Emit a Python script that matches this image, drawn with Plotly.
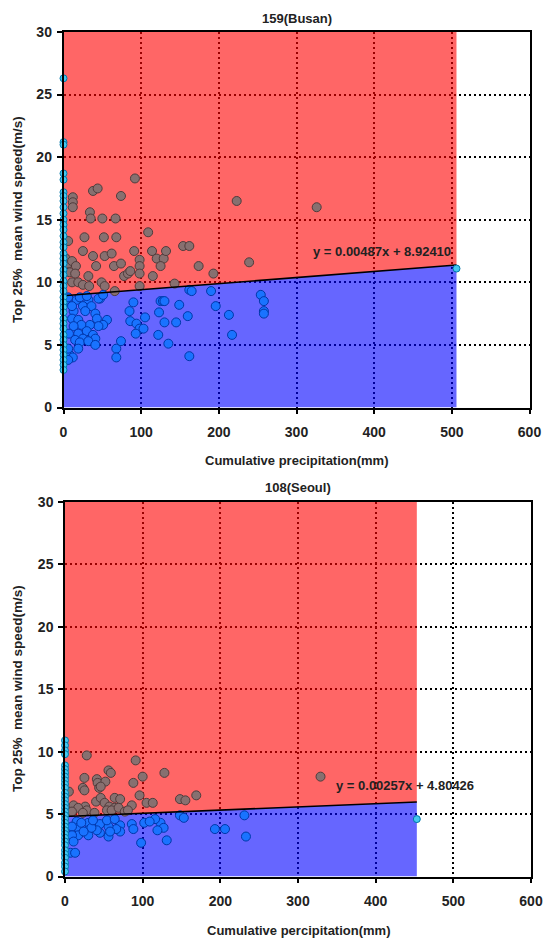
import plotly.graph_objects as go

# ---------------- data ----------------
# Busan (159)
busan_slope = 0.00487
busan_intercept = 8.92410
busan_xmax = 506
busan_zero_y = [26.3, 21.2, 21.0, 18.7, 18.2, 17.2, 16.9, 16.5, 16.0, 15.5, 15.0, 14.6, 14.2,
                13.7, 13.2, 12.8, 12.3, 11.9, 11.5, 11.0, 10.6, 10.1, 9.7, 9.3, 8.8, 8.4, 8.0,
                7.6, 7.1, 6.7, 6.3, 5.8, 5.4, 5.0, 4.6, 4.2, 3.8, 3.4, 3.0]
busan_end_x = [506]
busan_end_y = [11.1]
busan_above_x = [92, 223, 12, 12, 12, 38, 44, 74, 34, 35, 50, 67, 27, 52, 68, 6, 109, 154, 162,
                 25, 38, 53, 62, 91, 98, 114, 120, 129, 132, 125, 174, 193, 239, 65, 74, 42, 78,
                 83, 86, 98, 98, 115, 6, 3, 11, 16, 8, 15, 11, 19, 25, 32, 33, 49, 53, 66, 98,
                 143, 326]
busan_above_y = [18.3, 16.5, 16.8, 16.4, 16.0, 17.3, 17.5, 16.9, 15.6, 15.1, 15.1, 15.1, 13.6,
                 13.6, 13.6, 13.3, 14.0, 12.9, 12.9, 12.5, 12.1, 12.1, 12.3, 12.5, 11.8, 12.5,
                 11.9, 11.9, 12.5, 11.3, 11.3, 10.7, 11.6, 11.3, 11.5, 11.3, 10.5, 10.7, 10.9,
                 11.3, 10.7, 10.5, 11.5, 11.9, 11.7, 11.3, 10.8, 10.7, 10.0, 10.0, 9.8, 10.5,
                 9.7, 10.0, 9.7, 9.3, 9.7, 9.9, 16.0]
busan_below_x = [162, 165, 190, 254, 258, 258, 258, 213, 217, 196, 160, 162, 149, 145, 135, 122,
                 123, 125, 128, 130, 130, 90, 85, 86, 94, 98, 93, 103, 105, 68, 68, 74, 56, 47,
                 45, 51, 4, 17, 32, 25, 36, 13, 28, 41, 11, 19, 43, 51, 45, 34, 23, 13, 7, 19,
                 30, 38, 41, 25, 15, 21, 32, 41, 19, 8, 12, 6, 6, 11, 6, 21, 30]
busan_below_y = [9.4, 9.3, 9.3, 9.0, 8.5, 7.7, 7.5, 7.4, 5.8, 8.1, 7.3, 4.1, 8.2, 6.8, 5.1, 5.8,
                 7.6, 8.5, 8.5, 8.5, 6.8, 8.4, 7.7, 6.9, 6.7, 6.3, 5.9, 6.3, 7.2, 4.7, 4.0, 5.3,
                 7.0, 8.7, 8.7, 9.0, 8.6, 8.6, 8.6, 8.1, 8.1, 7.7, 7.7, 7.5, 7.1, 7.0, 7.1, 6.6,
                 6.5, 6.6, 6.6, 6.5, 5.9, 5.9, 6.1, 5.8, 5.5, 5.5, 5.4, 5.2, 5.3, 5.0, 4.7, 4.2,
                 4.0, 3.8, 4.7, 8.1, 8.8, 8.8, 8.9]

# Seoul (108)
seoul_slope = 0.00257
seoul_intercept = 4.80426
seoul_xmax = 453
seoul_zero_y = [10.9, 10.5, 10.1, 9.8, 8.9, 8.6, 8.3, 8.0, 7.7, 7.4, 7.1, 6.7, 6.4, 6.1, 5.8,
                5.5, 5.2, 4.9, 4.6, 4.3, 4.0, 3.7, 3.4, 3.1, 2.8, 2.5, 2.1, 1.8, 1.5, 1.1, 0.8, 0.4]
seoul_end_x = [453]
seoul_end_y = [4.6]
seoul_above_x = [28, 91, 128, 100, 56, 59, 25, 41, 42, 52, 44, 46, 23, 25, 88, 5, 96, 105, 113,
                 148, 155, 169, 40, 46, 51, 64, 71, 86, 57, 64, 54, 60, 69, 26, 28, 38, 11, 17,
                 9, 23, 77, 81, 329]
seoul_above_y = [9.7, 9.3, 8.3, 8.0, 8.5, 8.3, 7.9, 7.8, 7.5, 7.6, 7.1, 7.2, 7.1, 6.9, 7.5, 6.8,
                 6.5, 5.9, 5.9, 6.2, 6.1, 6.5, 6.0, 6.3, 5.9, 6.3, 6.2, 5.7, 5.6, 5.5, 5.3, 5.3,
                 5.5, 5.6, 5.3, 5.1, 5.7, 5.5, 5.2, 5.1, 5.2, 5.3, 8.0]
seoul_below_x = [231, 233, 193, 206, 148, 153, 131, 123, 127, 116, 119, 102, 109, 98, 86, 88,
                 71, 71, 66, 56, 56, 58, 45, 45, 41, 30, 30, 30, 34, 36, 15, 17, 17, 21, 24, 9,
                 9, 11, 7, 13, 54, 64]
seoul_below_y = [4.9, 3.2, 3.8, 3.8, 4.9, 4.7, 2.9, 4.3, 3.9, 4.6, 3.7, 4.3, 4.4, 2.7, 4.2, 3.8,
                 4.1, 3.6, 3.8, 4.0, 3.2, 3.6, 4.2, 3.5, 3.7, 4.3, 3.7, 3.3, 3.9, 4.5, 4.4, 3.9,
                 3.3, 4.3, 3.6, 4.0, 3.3, 2.8, 1.9, 1.9, 4.5, 4.6]

y_ticks = [0, 5, 10, 15, 20, 25, 30]
x_ticks = [0, 100, 200, 300, 400, 500, 600]

# ---------------- style ----------------
RED_FILL = "rgba(255,0,0,0.60)"
BLUE_FILL = "rgba(0,0,255,0.60)"
GREY = "rgb(135,112,112)"
GREY_LINE = "rgb(80,60,60)"
BLUE = "rgb(25,115,255)"
BLUE_LINE = "rgb(0,55,170)"
CYAN = "rgb(70,200,240)"
CYAN_LINE = "rgb(0,120,170)"
FONT = "Liberation Sans, Arial"

fig = go.Figure()


def add_panel(xa, ya, slope, intercept, xmax, zero_y, end_x, end_y,
              ab_x, ab_y, be_x, be_y):
    yend = intercept + slope * xmax
    fig.add_trace(go.Scatter(x=[0, xmax, xmax, 0, 0], y=[0, 0, yend, intercept, 0],
                             mode="lines", fill="toself", fillcolor=BLUE_FILL,
                             line=dict(width=0), hoverinfo="skip", showlegend=False,
                             xaxis=xa, yaxis=ya))
    fig.add_trace(go.Scatter(x=[0, xmax, xmax, 0, 0], y=[intercept, yend, 30, 30, intercept],
                             mode="lines", fill="toself", fillcolor=RED_FILL,
                             line=dict(width=0), hoverinfo="skip", showlegend=False,
                             xaxis=xa, yaxis=ya))
    fig.add_trace(go.Scatter(x=ab_x, y=ab_y, mode="markers",
                             marker=dict(size=9, color=GREY, line=dict(color=GREY_LINE, width=1)),
                             showlegend=False, xaxis=xa, yaxis=ya))
    fig.add_trace(go.Scatter(x=be_x, y=be_y, mode="markers",
                             marker=dict(size=9, color=BLUE, line=dict(color=BLUE_LINE, width=1)),
                             showlegend=False, xaxis=xa, yaxis=ya))
    fig.add_trace(go.Scatter(x=[0, xmax], y=[intercept, yend], mode="lines",
                             line=dict(color="black", width=1.6),
                             showlegend=False, xaxis=xa, yaxis=ya))
    fig.add_trace(go.Scatter(x=[0] * len(zero_y) + end_x, y=zero_y + end_y, mode="markers",
                             cliponaxis=False,
                             marker=dict(size=7, color=CYAN, line=dict(color=CYAN_LINE, width=1)),
                             showlegend=False, xaxis=xa, yaxis=ya))


add_panel("x", "y", busan_slope, busan_intercept, busan_xmax, busan_zero_y,
          busan_end_x, busan_end_y, busan_above_x, busan_above_y, busan_below_x, busan_below_y)
add_panel("x2", "y2", seoul_slope, seoul_intercept, seoul_xmax, seoul_zero_y,
          seoul_end_x, seoul_end_y, seoul_above_x, seoul_above_y, seoul_below_x, seoul_below_y)

W, H = 546, 941


def px_x(p):
    return p / W


def px_y(p):
    return (H - p) / H


axis_common = dict(showline=True, linecolor="black", linewidth=1.5, mirror=True,
                   ticks="outside", ticklen=5, tickwidth=1.5, tickcolor="black",
                   showgrid=True, gridcolor="black", gridwidth=1.5, griddash="2px,3px",
                   zeroline=False, automargin=False,
                   tickfont=dict(family=FONT, size=14, color="#222", weight="bold"))

xa = dict(axis_common, range=[0, 600], tickvals=x_ticks, ticklabelstandoff=6)
ya = dict(axis_common, range=[0, 30], tickvals=y_ticks, ticklabelstandoff=2)

fig.update_layout(
    width=W, height=H, margin=dict(l=0, r=0, t=0, b=0, autoexpand=False),
    paper_bgcolor="white", plot_bgcolor="white",
    xaxis=dict(xa, domain=[px_x(63.5), px_x(529.5)], anchor="y"),
    yaxis=dict(ya, domain=[px_y(407.5), px_y(32)], anchor="x"),
    xaxis2=dict(xa, domain=[px_x(65), px_x(531)], anchor="y2"),
    yaxis2=dict(ya, domain=[px_y(876.5), px_y(502)], anchor="x2"),
)

title_font = dict(family=FONT, size=13, color="#222")
axis_title_font = dict(family=FONT, size=13, color="#222")
ytitle_font = dict(family=FONT, size=13.5, color="#222")

annotations = [
    dict(text="<b>159(Busan)</b>", x=px_x(296.5), y=px_y(19), font=title_font),
    dict(text="<b>Cumulative precipitation(mm)</b>", x=px_x(296.5), y=px_y(461), font=axis_title_font),
    dict(text="<b>Top 25%  mean wind speed(m/s)</b>", x=px_x(17), y=px_y(220), textangle=-90, font=ytitle_font),
    dict(text="<b>108(Seoul)</b>", x=px_x(298), y=px_y(488), font=title_font),
    dict(text="<b>Cumulative percipitation(mm)</b>", x=px_x(298), y=px_y(930), font=axis_title_font),
    dict(text="<b>Top 25%  mean wind speed(m/s)</b>", x=px_x(17), y=px_y(689), textangle=-90, font=ytitle_font),
]
for a in annotations:
    a.update(xref="paper", yref="paper", showarrow=False, xanchor="center", yanchor="middle")

annotations.append(dict(text="<b>y = 0.00487x + 8.92410</b>", x=410, y=12.5, xref="x", yref="y",
                        showarrow=False, font=dict(family=FONT, size=13, color="#222")))
annotations.append(dict(text="<b>y = 0.00257x + 4.80426</b>", x=438, y=7.3, xref="x2", yref="y2",
                        showarrow=False, font=dict(family=FONT, size=13, color="#222")))
fig.update_layout(annotations=annotations)

fig.write_html("out.html")
